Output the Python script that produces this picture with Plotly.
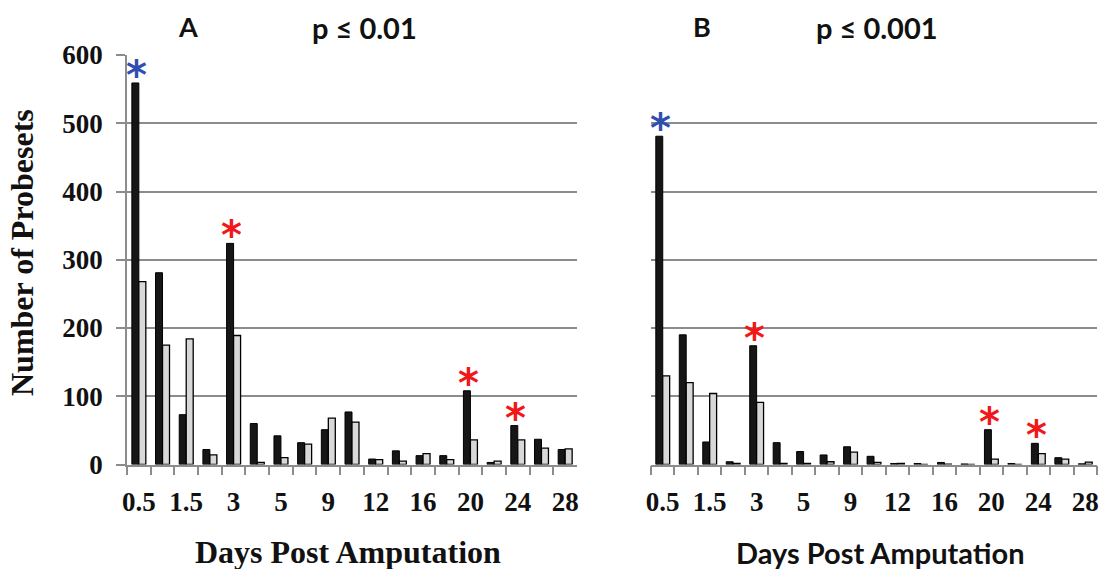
import plotly.graph_objects as go

days = ["0.5", "1", "1.5", "2", "3", "4", "5", "7", "9", "10",
        "12", "14", "16", "18", "20", "22", "24", "26", "28"]
tick_labels = ["0.5", "", "1.5", "", "3", "", "5", "", "9", "",
               "12", "", "16", "", "20", "", "24", "", "28"]

a_black = [559, 281, 73, 22, 324, 60, 42, 32, 51, 77, 8, 20, 13, 13, 108, 3, 57, 37, 22]
a_gray = [268, 175, 184, 14, 189, 3, 10, 30, 68, 62, 7, 5, 16, 7, 36, 5, 36, 24, 23]

b_black = [481, 190, 33, 4, 174, 32, 19, 14, 26, 12, 1.5, 1.5, 3, 0.8, 51, 1.5, 31, 10, 1]
b_gray = [130, 120, 104, 1.5, 91, 1.5, 1.5, 4, 18, 3, 1.5, 0, 0.5, 0, 8, 0, 16, 8, 3.5]

y_ticks = [0, 100, 200, 300, 400, 500, 600]

# significant time points marked with an asterisk
a_marks = [("0.5", "#2e4fb0"), ("3", "#f01818"), ("20", "#f01818"), ("24", "#f01818")]
b_marks = [("0.5", "#2e4fb0"), ("3", "#f01818"), ("20", "#f01818"), ("24", "#f01818")]

W, H = 1100, 569
GRID = "#8c8c8c"
N = len(days)

fig = go.Figure()
for xa, ya, blk, gry in [("x", "y", a_black, a_gray), ("x2", "y2", b_black, b_gray)]:
    fig.add_trace(go.Bar(x=days, y=blk, xaxis=xa, yaxis=ya,
                         marker=dict(color="#161616", line=dict(color="#000000", width=1)),
                         showlegend=False, hoverinfo="skip"))
    fig.add_trace(go.Bar(x=days, y=gry, xaxis=xa, yaxis=ya,
                         marker=dict(color="#d8d8d8", line=dict(color="#000000", width=1.3)),
                         showlegend=False, hoverinfo="skip"))

xdomA = [127 / W, 577 / W]
xdomB = [651 / W, 1097 / W]
ydom = [1 - 464.5 / H, 1 - 55 / H]

tickfont = dict(family="Liberation Serif", size=27, color="#111111", weight="bold")
xcommon = dict(type="category", categoryorder="array", categoryarray=days,
               range=[-0.5, N - 0.5], tickmode="array", tickvals=days, ticktext=tick_labels,
               tickangle=0, tickson="boundaries", ticks="outside", ticklen=9,
               tickcolor=GRID, tickwidth=1.5,
               showline=True, linecolor=GRID, linewidth=1.5, showgrid=False,
               tickfont=tickfont, ticklabelstandoff=12, fixedrange=True)

fig.update_layout(
    width=W, height=H,
    margin=dict(l=0, r=0, t=0, b=0, autoexpand=False),
    paper_bgcolor="white", plot_bgcolor="white",
    barmode="group", bargap=0.41, bargroupgap=0,
    xaxis=dict(domain=xdomA, anchor="y", **xcommon),
    xaxis2=dict(domain=xdomB, anchor="y2", **xcommon),
    yaxis=dict(domain=ydom, anchor="x", range=[0, 600], tickvals=y_ticks,
               showgrid=True, gridcolor=GRID, gridwidth=1.5,
               showline=True, linecolor=GRID, linewidth=1.5,
               ticks="outside", ticklen=9, tickcolor=GRID, tickwidth=1.5,
               tickfont=tickfont, ticklabelstandoff=8, zeroline=False, fixedrange=True),
    yaxis2=dict(domain=ydom, anchor="x2", range=[0, 600], tickvals=y_ticks,
                showgrid=True, gridcolor=GRID, gridwidth=1.5,
                showline=False, showticklabels=False, ticks="",
                zeroline=False, fixedrange=True),
)

ann = []
for xr, yr, marks, blk in [("x", "y", a_marks, a_black), ("x2", "y2", b_marks, b_black)]:
    for cat, col in marks:
        i = days.index(cat)
        ann.append(dict(x=i, y=blk[i], xref=xr, yref=yr, text="<b>*</b>",
                        showarrow=False, xshift=-2, yshift=-17, xanchor="center", yanchor="bottom",
                        font=dict(family="DejaVu Sans", size=40, color=col)))

sans = "Lato"
def lab(x, y, text, family, size, angle=0):
    return dict(x=x / W, y=1 - y / H, xref="paper", yref="paper", text=text, showarrow=False,
                xanchor="center", yanchor="middle", textangle=angle,
                font=dict(family=family, size=size, color="#111111"))

ann += [
    lab(188, 26, "<b>A</b>", sans, 27),
    lab(364, 28, "<b>p ≤ 0.01</b>", sans, 29),
    lab(702, 26, "<b>B</b>", sans, 27),
    lab(877, 28, "<b>p ≤ 0.001</b>", sans, 29),
    lab(22, 253, "<b>Number of Probesets</b>", "Liberation Serif", 32, -90),
    lab(348, 552, "<b>Days Post Amputation</b>", "Liberation Serif", 32),
    lab(880, 552, "<b>Days Post Amputation</b>", sans, 29),
]
fig.update_layout(annotations=ann)

fig.write_html("out.html", config={"displayModeBar": False},
               post_script="document.body.style.margin='0';")
